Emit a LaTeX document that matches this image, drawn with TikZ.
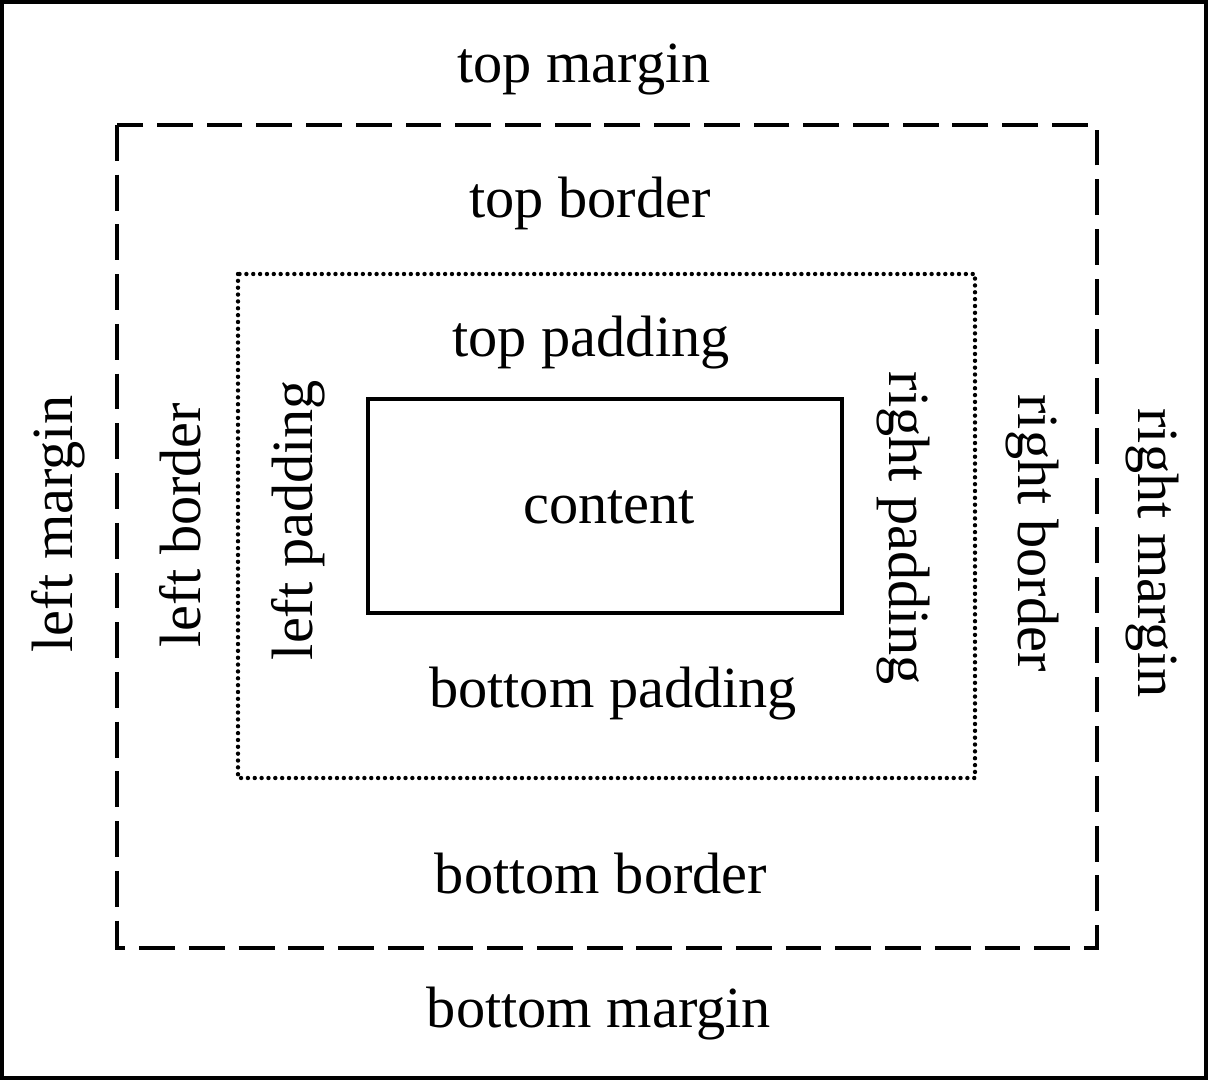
\documentclass[tikz,border=0pt]{standalone}
\usepackage{fontspec}
\setmainfont{Liberation Serif}

\begin{document}
\begin{tikzpicture}[x=0.02cm,y=-0.02cm,
  every node/.style={inner sep=0pt,font=\fontsize{33.2}{40}\selectfont},
  marginline/.style={line width=2.4pt},
  borderline/.style={line width=2.5pt,dash pattern=on 20.4pt off 7.9pt},
  paddingline/.style={line width=2.5pt,line cap=round,dash pattern=on 0pt off 3.9pt},
  contentline/.style={line width=2.1pt}]
\useasboundingbox (0,0) rectangle (1208,1080);

% the four boxes
\draw[marginline] (2,2) rectangle (1206,1078);
\draw[borderline] (117,125) rectangle (1097,948);
\draw[paddingline] (238,274) rectangle (975,778);
\draw[contentline] (368,399) rectangle (842,613);

% labels
\node[anchor=base](tmargin) at (584,82) {top margin};
\node[anchor=base](tborder) at (590,217) {top border};
\node[anchor=base](tpadding) at (591,356) {top padding};
\node[anchor=base](content) at (609,523) {content};
\node[anchor=base](bpadding) at (613,707) {bottom padding};
\node[anchor=base](bborder) at (601,893) {bottom border};
\node[anchor=base](bmargin) at (599,1027) {bottom margin};

\node[rotate=90](lmargin) at (58,524) {left margin};
\node[rotate=90,anchor=base](lborder) at (200,525) {left border};
\node[rotate=90](lpadding) at (298,520) {left padding};
\node[rotate=-90](rpadding) at (903,528) {right padding};
\node[rotate=-90](rborder) at (1032,533) {right border};
\node[rotate=-90](rmargin) at (1152,553) {right margin};
\end{tikzpicture}
\end{document}
